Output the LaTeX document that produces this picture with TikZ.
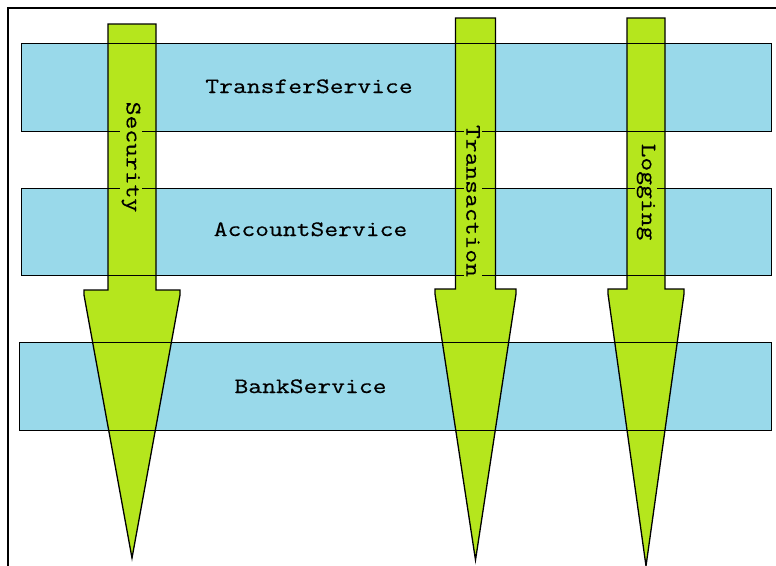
\documentclass[tikz,border=0pt]{standalone}
\usepackage{fontspec}
\setmonofont[FakeStretch=1.22,FakeBold=0.4]{Latin Modern Mono}
\usetikzlibrary{positioning}
\definecolor{svcblue}{RGB}{153,217,234}
\definecolor{aspectgreen}{RGB}{181,230,29}
\tikzset{
  svcbox/.style={fill=svcblue,inner sep=0pt},
  svcline/.style={line width=1.3pt},
  svctext/.style={font=\ttfamily\fontsize{22}{26}\selectfont,inner sep=0pt,anchor=base},
  aspect/.style={fill=aspectgreen,draw=black,line width=1.3pt,line join=miter},
  aspecttext/.style={font=\ttfamily\fontsize{22}{26}\selectfont,fill=aspectgreen,rotate=-90,inner sep=2pt}
}

\begin{document}
\begin{tikzpicture}[x=1pt,y=-1pt]
\useasboundingbox (0,0) rectangle (776,565);
% frame
\draw[line width=2pt] (8,566) -- (8,8) -- (777,8);
% services
\node[svcbox,minimum width=749pt,minimum height=87pt] (transfer) at (396.5,87.5) {};
\node[svcbox,minimum width=749pt,minimum height=86pt] (account) at (396.5,232) {};
\node[svcbox,minimum width=751pt,minimum height=87pt] (bank) at (395.5,386.5) {};
% aspects
\foreach \cx/\sw/\hw/\yt/\yb/\yy in {132/24/48/24/290/558,475.5/20/40.5/18/289/560,646/19/38/18/289/566}
  {\draw[aspect] ({\cx-\sw},\yt) -- ({\cx+\sw},\yt) -- ({\cx+\sw},\yb) -- ({\cx+\hw},\yb)
     -- ({\cx+\hw},{\yb+5}) -- (\cx,\yy) -- ({\cx-\hw},{\yb+5}) -- ({\cx-\hw},\yb)
     -- ({\cx-\sw},\yb) -- cycle;}
\foreach \nn in {transfer,account,bank}
  {\draw[svcline] (\nn.north west) rectangle (\nn.south east);}
% labels
\node[svctext] (transferlbl) at (309,93) {TransferService};
\node[svctext] (accountlbl) at (310.5,236) {AccountService};
\node[svctext] (banklbl) at (310.5,393) {BankService};
\node[aspecttext] (security) at (131,157) {Security};
\node[aspecttext] (transaction) at (473,201) {Transaction};
\node[aspecttext] (logging) at (646,192) {Logging};
\end{tikzpicture}
\end{document}
